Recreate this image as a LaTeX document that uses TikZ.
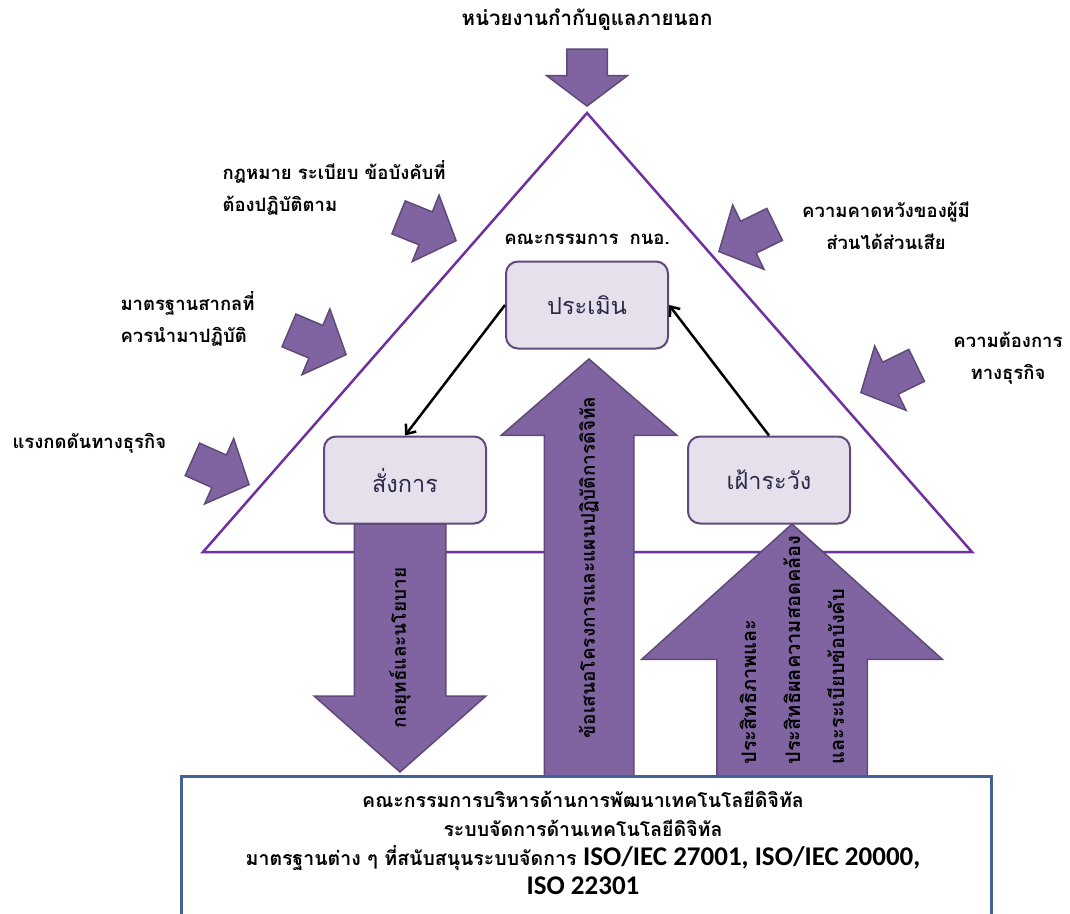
\documentclass[tikz,border=0pt]{standalone}
\usepackage{fontspec}
\setmainfont[Script=Thai]{Loma}
\newfontfamily\isofont{Carlito}
\usetikzlibrary{positioning,calc,shapes.arrows,arrows.meta}

\definecolor{trianglepurple}{RGB}{112,48,160}
\definecolor{arrowfill}{RGB}{128,100,162}
\definecolor{arrowline}{RGB}{94,73,120}
\definecolor{boxfill}{RGB}{229,224,236}
\definecolor{boxline}{RGB}{96,74,123}
\definecolor{boxtext}{RGB}{45,40,70}
\definecolor{boardline}{RGB}{66,100,148}

\tikzset{
	blockarrow/.style={single arrow, draw=arrowline, fill=arrowfill, line width=1.5pt, inner xsep=0pt, single arrow head indent=0pt, anchor=tip},
	sidearrow/.style={blockarrow, minimum height=62pt, inner ysep=17pt, single arrow head extend=18pt, single arrow tip angle=95},
	stepbox/.style={draw=boxline, fill=boxfill, line width=2pt, rounded corners=12pt, minimum width=162pt, minimum height=87pt, text=boxtext, font=\fontsize{23.5}{28}\selectfont},
	sidetext/.style={font=\bfseries\fontsize{18.5}{32}\selectfont},
	arrowtext/.style={font=\bfseries\fontsize{19}{44}\selectfont},
	flowarrow/.style={-{Straight Barb[length=8pt,width=13pt]}, line width=2.5pt},
}

\begin{document}
\begin{tikzpicture}[x=1pt,y=-1pt]
		\path[use as bounding box, clip] (0,0) rectangle (1070,913);

		% triangle
		\coordinate (apex)		at (587,113);
		\coordinate (baseleft)	at (203,552);
		\coordinate (baseright)	at (972,552);
		\draw[trianglepurple, line width=2.5pt] (apex) -- (baseright) -- (baseleft) -- cycle;

		% arrows pressing on the triangle
		\node[blockarrow, rotate=-90, minimum height=57pt, inner ysep=19.5pt, single arrow head extend=20pt, single arrow tip angle=106] (oversight) at (587,107) {};
		\node[sidearrow, rotate=-22]	(lawarrow)			at (457,241) {};
		\node[sidearrow, rotate=-23]	(standardarrow)		at (347,355) {};
		\node[sidearrow, rotate=-24]	(pressurearrow)		at (250,485) {};
		\node[sidearrow, rotate=206]	(stakeholderarrow)	at (718,252) {};
		\node[sidearrow, rotate=206]	(needarrow)			at (860,393) {};

		% big arrows
		\node[blockarrow, rotate=-90, minimum height=248pt, inner ysep=45pt, single arrow head extend=40pt, single arrow tip angle=97]	(strategy)		at (400,773) {};
		\node[blockarrow, rotate=90, minimum height=417pt, inner ysep=44pt, single arrow head extend=43pt, single arrow tip angle=98]	(proposal)		at (589,358) {};
		\node[blockarrow, rotate=90, minimum height=252pt, inner ysep=74.5pt, single arrow head extend=75pt, single arrow tip angle=96]	(compliance)	at (792,523) {};

		\node[arrowtext, rotate=90]					(strategytext)		at ($(strategy.tip)!0.5!(strategy.tail)$)		{กลยุทธ์และนโยบาย};
		\node[arrowtext, rotate=90]					(proposaltext)		at ($(proposal.tip)!0.5!(proposal.tail)$)		{ข้อเสนอโครงการและแผนปฏิบัติการดิจิทัล};
		\node[arrowtext, rotate=90, align=left, font=\bfseries\fontsize{20}{44}\selectfont]	(compliancetext)	at ($(compliance.tip)!0.5!(compliance.tail)$)	{ประสิทธิภาพและ\\ประสิทธิผลความสอดคล้อง\\และระเบียบข้อบังคับ};

		% governance cycle
		\node[stepbox]											(evaluate)	at (587,305)	{ประเมิน};
		\node[stepbox, below left=86pt and 18pt of evaluate]	(command)					{สั่งการ};
		\node[stepbox, below right=86pt and 18pt of evaluate]	(monitor)					{เฝ้าระวัง};
		\node[sidetext, above=12pt of evaluate]					(committee)					{คณะกรรมการ\hspace{0.6em}กนอ.};

		\draw[flowarrow]	(evaluate.west)	--	(command.north);
		\draw[flowarrow]	(monitor.north)	--	(evaluate.east);

		% board
		\node[draw=boardline, fill=white, line width=2.5pt, anchor=north west, minimum width=810pt, minimum height=160pt] (board) at (180,775) {};
		\node[font=\bfseries\fontsize{19.5}{29}\selectfont, align=center] (boardtext) at (583,843)
			{คณะกรรมการบริหารด้านการพัฒนาเทคโนโลยีดิจิทัล\\
			 ระบบจัดการด้านเทคโนโลยีดิจิทัล\\
			 มาตรฐานต่าง ๆ ที่สนับสนุนระบบจัดการ {\isofont\fontsize{27}{29}\selectfont ISO/IEC 27001, ISO/IEC 20000,}\\
			 {\isofont\fontsize{27}{29}\selectfont ISO 22301}};

		% outside labels
		\node[sidetext, font=\bfseries\fontsize{20.5}{32}\selectfont]	(regulator)		at (587,20)		{หน่วยงานกำกับดูแลภายนอก};
		\node[sidetext, align=left, anchor=west]	(law)			at (219,188)	{กฎหมาย ระเบียบ ข้อบังคับที่\\ต้องปฏิบัติตาม};
		\node[sidetext, align=left, anchor=west]	(standard)		at (117,319)	{มาตรฐานสากลที่\\ควรนำมาปฏิบัติ};
		\node[sidetext, anchor=west]				(pressure)		at (9,443)		{แรงกดดันทางธุรกิจ};
		\node[sidetext, align=center]			(stakeholder)	at (886,226)	{ความคาดหวังของผู้มี\\ส่วนได้ส่วนเสีย};
		\node[sidetext, align=center]			(need)			at (1008,358)	{ความต้องการ\\ทางธุรกิจ};
	\end{tikzpicture}
\end{document}
